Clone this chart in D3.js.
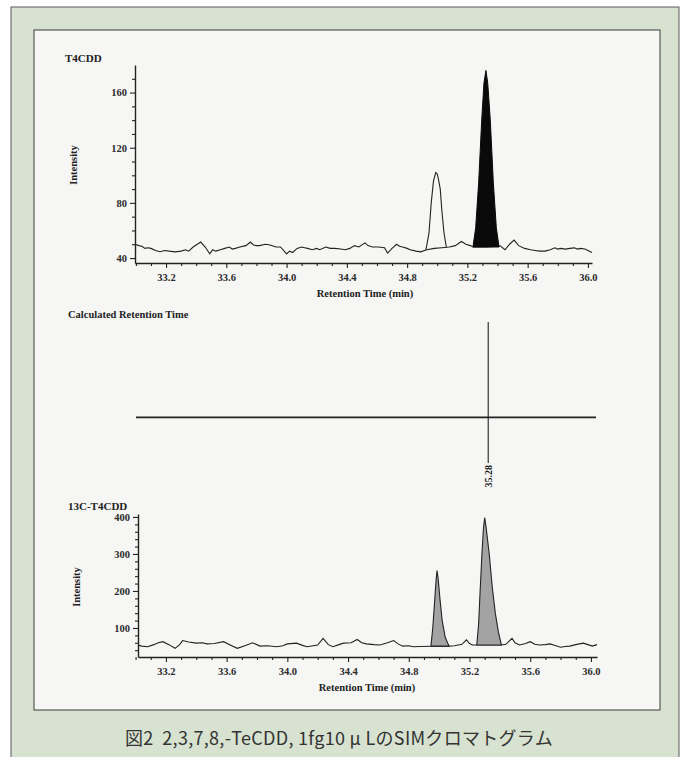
<!DOCTYPE html>
<html><head><meta charset="utf-8">
<script src="https://cdn.jsdelivr.net/npm/d3@7"></script>
<style>
html,body{margin:0;padding:0;background:#fff;}
svg{display:block;}
.tk text{font-family:"Liberation Serif","DejaVu Serif",serif;font-size:10.5px;font-weight:bold;fill:#2a2a2a;}
</style></head><body>
<svg id="c" width="689" height="757"></svg>
<script>
// ---------- DATA ----------
const topTitle = "T4CDD";
const midTitle = "Calculated Retention Time";
const botTitle = "13C-T4CDD";
const xLabel = "Retention Time (min)";
const yLabel = "Intensity";
const caption = "図2  2,3,7,8,-TeCDD, 1fg10 μ LのSIMクロマトグラム";

const xTickValues = [33.2, 33.6, 34.0, 34.4, 34.8, 35.2, 35.6, 36.0];
const xTickLabels = ["33.2", "33.6", "34.0", "34.4", "34.8", "35.2", "35.6", "36.0"];
const topYTicks = [40, 80, 120, 160];
const botYTicks = [100, 200, 300, 400];

// T4CDD trace (time, intensity)
const topTrace = [[32.994,50],[33.02,49],[33.04,48.5],[33.06,47],[33.08,47.5],[33.1,47],[33.13,45.5],[33.16,44.6],[33.19,45.5],[33.22,45],[33.26,44.5],[33.3,45],[33.33,46],[33.35,45],[33.38,48],[33.43,51.6],[33.46,48],[33.49,43],[33.51,46],[33.53,45],[33.56,46],[33.59,47],[33.62,48],[33.64,46.5],[33.66,47],[33.69,48],[33.73,49],[33.76,51.6],[33.78,49.5],[33.8,49],[33.82,49],[33.86,50],[33.89,49.5],[33.93,48],[33.96,48],[34.0,43],[34.02,45],[34.04,44],[34.07,47],[34.10,48],[34.12,47.5],[34.14,47],[34.17,46],[34.2,47],[34.22,46],[34.26,48],[34.29,47],[34.32,47],[34.36,46.5],[34.39,46],[34.42,47],[34.45,49],[34.48,48],[34.52,51],[34.54,49],[34.57,48],[34.61,48],[34.65,47.5],[34.67,43.6],[34.7,47],[34.73,50],[34.75,48.5],[34.77,48],[34.8,47],[34.82,46],[34.86,45],[34.89,44.5],[34.93,46],[34.98,47],[35.03,47.5],[35.08,48],[35.12,49],[35.16,52],[35.19,50],[35.22,49],[35.237,48],[35.32,48],[35.41,48.5],[35.416,49],[35.45,46],[35.48,50],[35.51,53],[35.54,49],[35.58,47],[35.62,46],[35.65,45.5],[35.68,45],[35.715,45],[35.75,46],[35.78,47.4],[35.8,46.5],[35.82,47],[35.85,46.5],[35.88,47],[35.91,47.4],[35.93,46.5],[35.95,47],[35.98,46.5],[36.0,45.5],[36.027,44]];
const topPeakOpen = [[34.925,46],[34.945,58],[34.96,80],[34.975,96],[34.99,102],[35.0,101],[35.01,96],[35.02,90],[35.03,75],[35.045,58],[35.06,48]];
const topPeakFilled = [[35.237,48],[35.255,62],[35.275,95],[35.295,140],[35.31,167],[35.323,176],[35.335,167],[35.352,140],[35.372,95],[35.392,62],[35.41,48]];

// Calculated retention time
const calcRT = 35.28;
const calcRTLabel = "35.28";

// 13C-T4CDD trace
const botTrace = [[33.016,54],[33.04,51],[33.08,49.5],[33.12,55],[33.15,60],[33.18,63],[33.22,55],[33.26,45],[33.29,55],[33.31,66],[33.35,62],[33.40,59],[33.44,60],[33.47,57],[33.52,58],[33.58,63],[33.62,55],[33.67,45],[33.72,52],[33.77,60],[33.82,51],[33.87,52],[33.93,49.5],[33.97,52],[34.0,57],[34.06,59],[34.1,53],[34.13,49.5],[34.17,52],[34.2,54],[34.235,72],[34.27,55],[34.3,49.5],[34.34,55],[34.37,59],[34.42,60],[34.46,69],[34.49,60],[34.52,57],[34.57,55],[34.61,54],[34.66,60],[34.70,66],[34.73,57],[34.76,51],[34.8,52],[34.83,49.5],[34.87,50],[34.95,50.5],[35.02,51],[35.065,51],[35.1,52],[35.15,56],[35.18,68],[35.2,58],[35.22,54],[35.248,54],[35.33,54],[35.41,54],[35.44,56],[35.48,72],[35.5,60],[35.53,54],[35.57,58],[35.6,63],[35.63,56],[35.66,54],[35.7,55],[35.73,57],[35.77,52],[35.8,48],[35.83,50],[35.86,51],[35.9,55],[35.95,59],[35.98,55],[36.01,51],[36.04,55]];
const botPeak1 = [[34.946,51],[34.958,100],[34.97,170],[34.98,230],[34.986,255],[34.993,235],[35.005,180],[35.02,120],[35.04,75],[35.065,51]];
const botPeak2 = [[35.248,54],[35.26,110],[35.27,200],[35.282,300],[35.292,370],[35.300,398],[35.31,370],[35.33,300],[35.35,210],[35.37,140],[35.39,90],[35.41,54]];

// ---------- DRAW ----------
const svg = d3.select("#c");
const serif = '"Liberation Serif","DejaVu Serif",serif';

// frames
svg.append("rect").attr("x",11).attr("y",7).attr("width",668).attr("height",790)
  .attr("fill","#d7e2d0").attr("stroke","#5a5a5a").attr("stroke-width",1);
svg.append("rect").attr("x",34).attr("y",30).attr("width",626).attr("height",680)
  .attr("fill","#f6f6f4").attr("stroke","#3a3a3a").attr("stroke-width",1);

function xAxis(g, x, y0) {
  const minor = d3.range(33.0, 36.05, 0.1).map(v => +v.toFixed(1)).filter(v => xTickValues.indexOf(v) < 0);
  g.append("g").attr("class","tk").attr("transform",`translate(0,${y0})`)
    .call(d3.axisBottom(x).tickValues(minor).tickSize(3).tickSizeOuter(0).tickFormat(""))
    .call(s => s.select(".domain").remove());
  const ax = g.append("g").attr("class","tk").attr("transform",`translate(0,${y0})`)
    .call(d3.axisBottom(x).tickValues(xTickValues).tickSize(5).tickSizeOuter(0).tickPadding(6)
      .tickFormat((d,i) => xTickLabels[i]));
  ax.select(".domain").attr("stroke-width",1.6).attr("stroke","#222");
  g.selectAll(".tk line").attr("stroke","#222").attr("stroke-width",1.1);
}
function yAxis(g, y, x0, majors, minors) {
  g.append("g").attr("class","tk").attr("transform",`translate(${x0},0)`)
    .call(d3.axisLeft(y).tickValues(minors).tickSize(3).tickSizeOuter(0).tickFormat(""))
    .call(s => s.select(".domain").remove());
  const ax = g.append("g").attr("class","tk").attr("transform",`translate(${x0},0)`)
    .call(d3.axisLeft(y).tickValues(majors).tickSize(5).tickSizeOuter(0).tickPadding(3));
  ax.select(".domain").attr("stroke-width",1.4).attr("stroke","#222");
  g.selectAll(".tk line").attr("stroke","#222").attr("stroke-width",1.1);
}
function text(g, x, y, s, opts={}) {
  const t = g.append("text").attr("x",x).attr("y",y).text(s)
    .attr("font-family", opts.family || serif)
    .attr("font-size", opts.size || 11)
    .attr("font-weight", opts.weight || "normal")
    .attr("fill", opts.fill || "#222")
    .attr("text-anchor", opts.anchor || "start")
    .style("white-space","pre");
  if (opts.spacing) t.attr("letter-spacing", opts.spacing);
  if (opts.rotate) t.attr("transform",`rotate(${opts.rotate},${x},${y})`);
  return t;
}

// ---- top panel ----
const gT = svg.append("g");
const xT = d3.scaleLinear().domain([32.994, 36.027]).range([135, 592]);
const yT = d3.scaleLinear().domain([36.4, 180]).range([263, 65]);
xAxis(gT, xT, 263);
yAxis(gT, yT, 135, topYTicks, d3.range(40, 171, 10).filter(v => topYTicks.indexOf(v) < 0));
const lineT = d3.line().x(d => xT(d[0])).y(d => yT(d[1]));
gT.append("path").attr("d", lineT(topTrace)).attr("fill","none").attr("stroke","#222").attr("stroke-width",1.1);
gT.append("path").attr("d", lineT(topPeakOpen)).attr("fill","none").attr("stroke","#222").attr("stroke-width",1.1);
gT.append("path").attr("d", lineT(topPeakFilled) + "Z").attr("fill","#0a0a0a").attr("stroke","#0a0a0a").attr("stroke-width",1);
text(gT, 65, 62, topTitle, {weight:"bold", size:11});
text(gT, 77, 165, yLabel, {size:10.5, weight:"bold", anchor:"middle", rotate:-90});
text(gT, 365, 297, xLabel, {size:10.5, weight:"bold", anchor:"middle"});

// ---- middle panel ----
const gM = svg.append("g");
const xM = d3.scaleLinear().domain([32.96, 35.99]).range([136, 596]);
const yM = d3.scaleLinear().domain([-0.5, 1]).range([465, 322]);
gM.append("line").attr("x1", xM.range()[0]).attr("x2", xM.range()[1])
  .attr("y1", yM(0)).attr("y2", yM(0)).attr("stroke","#222").attr("stroke-width",1.8);
gM.append("line").attr("x1", xM(calcRT)).attr("x2", xM(calcRT))
  .attr("y1", yM(1)).attr("y2", yM(-0.5) - 2).attr("stroke","#222").attr("stroke-width",1.1);
text(gM, xM(calcRT) + 3.5, yM(-0.5), calcRTLabel, {size:10, weight:"bold", anchor:"end", rotate:-90});
text(gM, 68, 318, midTitle, {weight:"bold", size:10.5});

// ---- bottom panel ----
const gB = svg.append("g");
const xB = d3.scaleLinear().domain([33.016, 36.04]).range([138, 597]);
const yB = d3.scaleLinear().domain([21.6, 408]).range([657, 514]);
xAxis(gB, xB, 657);
yAxis(gB, yB, 138, botYTicks, d3.range(40, 401, 20).filter(v => botYTicks.indexOf(v) < 0));
const lineB = d3.line().x(d => xB(d[0])).y(d => yB(d[1]));
gB.append("path").attr("d", lineB(botTrace)).attr("fill","none").attr("stroke","#222").attr("stroke-width",1.1);
[botPeak1, botPeak2].forEach(p => {
  gB.append("path").attr("d", lineB(p) + "Z").attr("fill","#a3a3a3").attr("stroke","#222").attr("stroke-width",1.1);
});
text(gB, 68, 510, botTitle, {weight:"bold", size:11});
text(gB, 80, 587, yLabel, {size:10.5, weight:"bold", anchor:"middle", rotate:-90});
text(gB, 367, 691, xLabel, {size:10.5, weight:"bold", anchor:"middle"});

// caption
text(svg, 339, 745, caption, {family:'"Noto Sans CJK JP","Noto Sans",sans-serif', size:18, spacing:0.3, anchor:"middle", fill:"#333"});
</script>
</body></html>
